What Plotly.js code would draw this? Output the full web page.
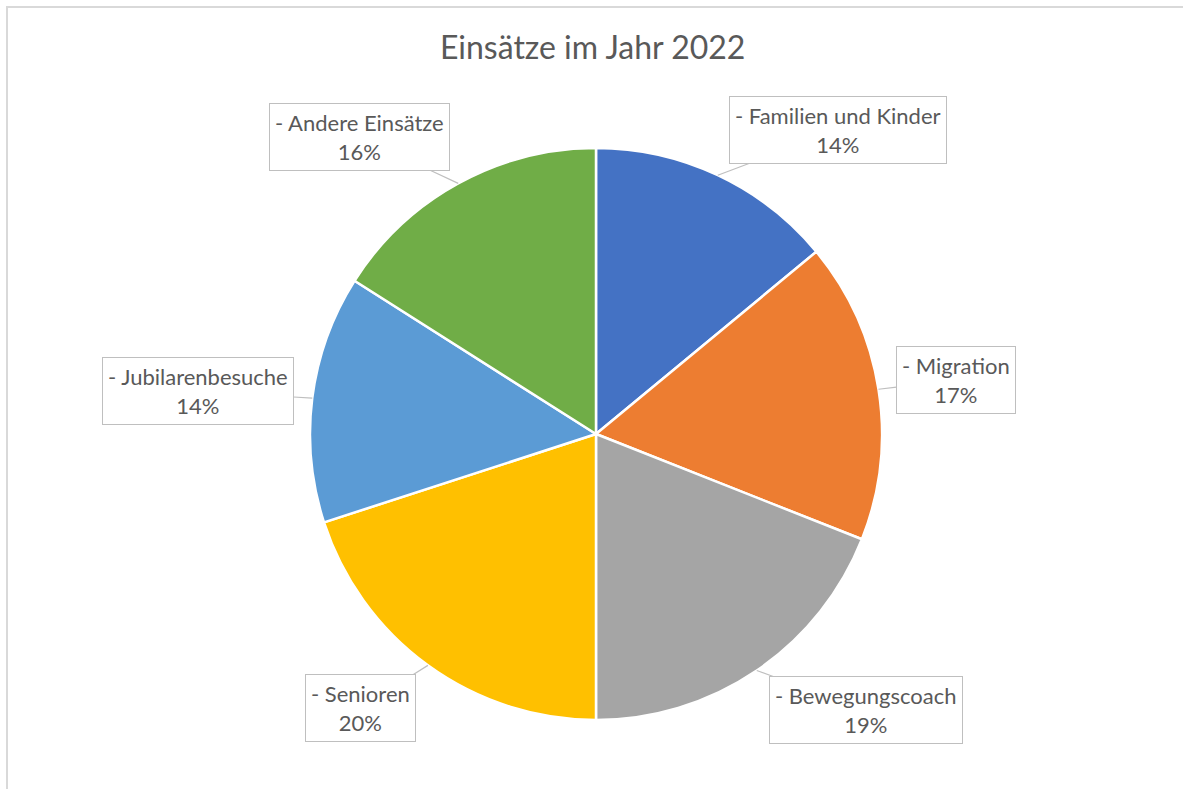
<!DOCTYPE html>
<html>
<head>
<meta charset="utf-8">
<script src="https://cdn.plot.ly/plotly-3.0.1.min.js"></script>
<style>
  html, body { margin: 0; padding: 0; background: #ffffff; }
  #wrap { position: relative; width: 1183px; height: 789px; overflow: hidden; }
  #chart { width: 1183px; height: 789px; }
  #frame { position: absolute; left: 6px; top: 6px; width: 1180px; height: 790px;
           border-top: 2px solid #d9d9d9; border-left: 2px solid #d9d9d9; pointer-events: none; }
</style>
</head>
<body>
<div id="wrap">
  <div id="chart"></div>
  <div id="frame"></div>
</div>
<script>
// ---- data ----
const categories = ['Familien und Kinder', 'Migration', 'Bewegungscoach', 'Senioren', 'Jubilarenbesuche', 'Andere Einsätze'];
const values = [14, 17, 19, 20, 14, 16];
const titleText = 'Einsätze im Jahr 2022';

// ---- styles ----
const sliceColors = ['#4472C4', '#ED7D31', '#A5A5A5', '#FFC000', '#5B9BD5', '#70AD47'];
const W = 1183, H = 789;
const pieBox = { x0: 310, x1: 882, y0: 148, y1: 720 };  // pixel frame of the pie
const cx = (pieBox.x0 + pieBox.x1) / 2, cy = (pieBox.y0 + pieBox.y1) / 2;
const R = (pieBox.x1 - pieBox.x0) / 2;
// label box centres (pixels), one per category in order
const labelCenters = [[838, 130], [956, 380], [866, 710], [360, 708], [198, 391], [359, 137]];

const total = values.reduce((a, b) => a + b, 0);
let cum = 0;
const annotations = categories.map((cat, i) => {
  const mid = (cum + values[i] / 2) / total * 2 * Math.PI;
  cum += values[i];
  const tx = cx + R * Math.sin(mid);
  const ty = cy - R * Math.cos(mid);
  const pct = Math.round(values[i] / total * 100);
  return {
    xref: 'paper', yref: 'paper',
    x: tx / W, y: 1 - ty / H,
    ax: labelCenters[i][0] - tx, ay: labelCenters[i][1] - ty,
    text: '- ' + cat + '<br>' + pct + '%',
    showarrow: true, arrowhead: 0, arrowwidth: 1.2, arrowcolor: '#bfbfbf', standoff: 0,
    font: { family: 'Lato, "Open Sans", sans-serif', size: 22, color: '#595959' },
    align: 'center',
    bgcolor: '#ffffff', bordercolor: '#bfbfbf', borderwidth: 1, borderpad: 5
  };
});

const trace = {
  type: 'pie',
  labels: categories,
  values: values,
  sort: false,
  direction: 'clockwise',
  rotation: 0,
  textinfo: 'none',
  hoverinfo: 'label+percent',
  marker: { colors: sliceColors, line: { color: '#ffffff', width: 2.5 } },
  domain: { x: [pieBox.x0 / W, pieBox.x1 / W], y: [1 - pieBox.y1 / H, 1 - pieBox.y0 / H] },
  showlegend: false
};

const layout = {
  width: W, height: H,
  margin: { l: 0, r: 0, t: 0, b: 0 },
  paper_bgcolor: '#ffffff',
  showlegend: false,
  title: {
    text: titleText,
    x: 0.501, xanchor: 'center',
    y: 1 - 48 / H, yanchor: 'middle',
    font: { family: 'Lato, "Open Sans", sans-serif', size: 32, color: '#595959' }
  },
  annotations: annotations
};

Plotly.newPlot('chart', [trace], layout, { displayModeBar: false, staticPlot: true });
</script>
</body>
</html>
